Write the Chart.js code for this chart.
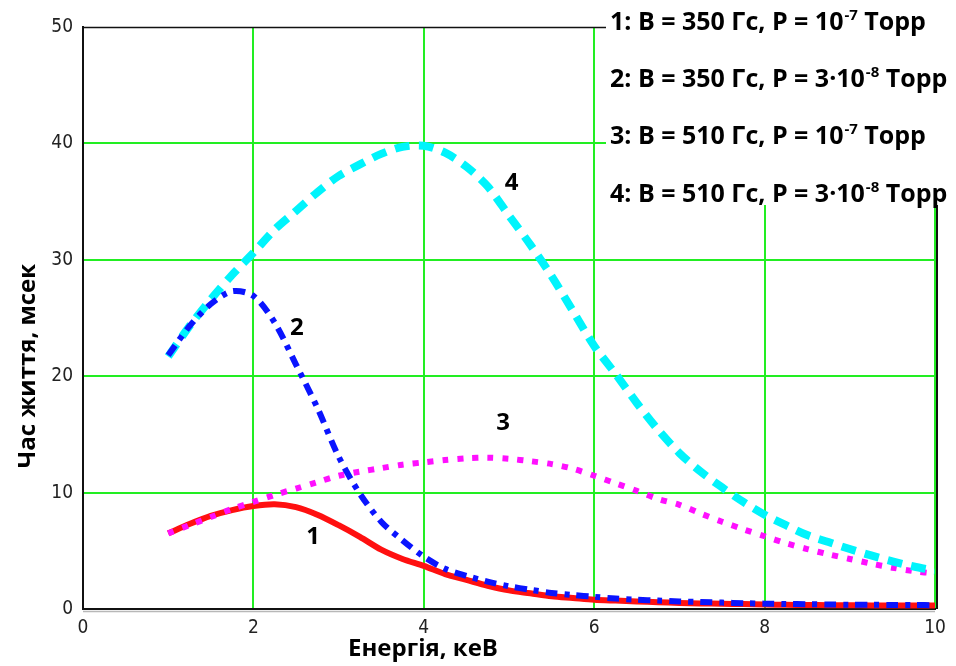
<!DOCTYPE html>
<html>
<head>
<meta charset="utf-8">
<script src="https://cdn.jsdelivr.net/npm/chart.js@4.4.0/dist/chart.umd.min.js"></script>
<style>
  html, body { margin: 0; padding: 0; background: #fff; }
  #wrap { width: 956px; height: 666px; position: relative; }
</style>
</head>
<body>
<div id="wrap"><canvas id="lifeChart"></canvas></div>
<script>
// energy grid, keV
const energy = [1.00, 1.25, 1.50, 1.75, 2.00, 2.25, 2.50, 2.75, 3.00, 3.25, 3.50, 3.75,
  4.00, 4.25, 4.50, 4.75, 5.00, 5.25, 5.50, 5.75, 6.00, 6.25, 6.50, 6.75,
  7.00, 7.25, 7.50, 7.75, 8.00, 8.25, 8.50, 8.75, 9.00, 9.25, 9.50, 9.75, 10.00];

// lifetime, ms
const tau1 = [6.5, 7.3, 8.0, 8.5, 8.85, 9.0, 8.75, 8.1, 7.2, 6.2, 5.1, 4.3,
  3.7, 3.0, 2.5, 2.0, 1.6, 1.35, 1.1, 0.95, 0.8, 0.72, 0.65, 0.58,
  0.52, 0.48, 0.45, 0.42, 0.38, 0.36, 0.34, 0.33, 0.32, 0.31, 0.30, 0.30, 0.29];
const tau2 = [21.8, 24.3, 26.2, 27.3, 26.9, 24.6, 21.0, 17.3, 13.1, 9.9, 7.5, 5.9,
  4.5, 3.45, 2.85, 2.35, 1.95, 1.65, 1.38, 1.2, 1.05, 0.9, 0.8, 0.72,
  0.65, 0.6, 0.55, 0.5, 0.46, 0.43, 0.41, 0.39, 0.37, 0.36, 0.35, 0.34, 0.33];
const tau3 = [6.5, 7.2, 7.9, 8.6, 9.2, 9.8, 10.35, 10.9, 11.45, 11.8, 12.1, 12.4,
  12.6, 12.8, 12.95, 13.0, 12.9, 12.7, 12.45, 12.05, 11.45, 10.8, 10.15, 9.45,
  8.95, 8.2, 7.5, 6.85, 6.25, 5.65, 5.15, 4.7, 4.3, 3.9, 3.55, 3.25, 3.05];
const tau4 = [21.7, 24.3, 26.6, 28.7, 30.6, 32.6, 34.2, 35.8, 37.2, 38.2, 39.1, 39.7,
  39.8, 39.2, 38.0, 36.3, 33.8, 31.3, 28.6, 25.6, 22.6, 20.2, 17.7, 15.4,
  13.4, 11.8, 10.45, 9.2, 8.1, 7.2, 6.35, 5.75, 5.15, 4.6, 4.1, 3.65, 3.3];

const xTicks = [0, 2, 4, 6, 8, 10];
const yTicks = [0, 10, 20, 30, 40, 50];

// legend lines: text, exponent, unit
const legendLines = [
  ['1: B = 350 Гс, P = 10', '-7', ' Торр'],
  ['2: B = 350 Гс, P = 3·10', '-8', ' Торр'],
  ['3: B = 510 Гс, P = 10', '-7', ' Торр'],
  ['4: B = 510 Гс, P = 3·10', '-8', ' Торр']
];

// curve number tags, in data coordinates
const curveTags = [
  { text: '1', x: 2.70, y: 6.2 },
  { text: '2', x: 2.51, y: 24.1 },
  { text: '3', x: 4.93, y: 16.0 },
  { text: '4', x: 5.03, y: 36.6 }
];

const xTitle = 'Енергія, кеВ';
const yTitle = 'Час життя, мсек';

const pts = ys => energy.map((e, i) => ({ x: e, y: ys[i] }));

const boldFont = "'Open Sans', 'DejaVu Sans', sans-serif";
const tickFont = { family: "'Liberation Sans Narrow', 'DejaVu Sans Condensed', sans-serif", size: 19 };

const overlay = {
  id: 'overlay',
  afterDraw(chart) {
    const { ctx, chartArea: a, scales } = chart;
    ctx.save();

    // top and right frame
    ctx.strokeStyle = '#111';
    ctx.lineWidth = 1.5;
    ctx.beginPath();
    ctx.moveTo(a.left, a.top + 0.5);
    ctx.lineTo(a.right + 1, a.top + 0.5);
    ctx.stroke();
    ctx.lineWidth = 2;
    ctx.beginPath();
    ctx.moveTo(a.right + 2, a.top);
    ctx.lineTo(a.right + 2, a.bottom);
    ctx.stroke();
    // soft shadow under the bottom axis
    ctx.strokeStyle = '#b8b8b8';
    ctx.lineWidth = 1.5;
    ctx.beginPath();
    ctx.moveTo(a.left, a.bottom + 2.5);
    ctx.lineTo(a.right, a.bottom + 2.5);
    ctx.stroke();

    // legend block
    ctx.fillStyle = '#fff';
    ctx.fillRect(606, 0, 350, 205);
    ctx.fillStyle = '#000';
    ctx.textBaseline = 'alphabetic';
    ctx.textAlign = 'left';
    const base = [30, 87, 144, 202];
    legendLines.forEach((ln, i) => {
      let x = 610;
      ctx.font = 'bold 25px ' + boldFont;
      ctx.fillText(ln[0], x, base[i]);
      x += ctx.measureText(ln[0]).width + 1;
      ctx.font = 'bold 15px ' + boldFont;
      ctx.fillText(ln[1], x, base[i] - 10);
      x += ctx.measureText(ln[1]).width;
      ctx.font = 'bold 25px ' + boldFont;
      ctx.fillText(ln[2], x, base[i]);
    });

    // curve numbers
    ctx.font = 'bold 24px ' + boldFont;
    ctx.textAlign = 'center';
    ctx.textBaseline = 'middle';
    curveTags.forEach(t => {
      ctx.fillText(t.text, scales.x.getPixelForValue(t.x), scales.y.getPixelForValue(t.y));
    });

    // axis titles
    ctx.font = 'bold 24px ' + boldFont;
    ctx.fillText(xTitle, 423, 649);
    ctx.translate(28, 366);
    ctx.rotate(-Math.PI / 2);
    ctx.fillText(yTitle, 0, 0);
    ctx.restore();
  }
};

const gridColor = c => (c.tick && (c.tick.value === 0)) ? 'rgba(0,0,0,0)' : '#22ee22';

new Chart(document.getElementById('lifeChart').getContext('2d'), {
  type: 'line',
  data: {
    datasets: [
      { data: pts(tau1), borderColor: '#ff1010', borderWidth: 6, tension: 0.3, order: 4 },
      { data: pts(tau2), borderColor: '#0a14ff', borderWidth: 6, borderDash: [12, 7, 5, 7], tension: 0.3, order: 1 },
      { data: pts(tau3), borderColor: '#ff10ff', borderWidth: 6, borderDash: [6, 9], tension: 0.3, order: 3 },
      { data: pts(tau4), borderColor: '#00f4fc', borderWidth: 8, borderDash: [15, 9], tension: 0.3, order: 2 }
    ]
  },
  options: {
    responsive: true,
    maintainAspectRatio: false,
    animation: false,
    layout: { padding: { top: 27, right: 21, left: 0, bottom: 0 } },
    elements: { point: { radius: 0 } },
    plugins: { legend: { display: false }, tooltip: { enabled: false } },
    scales: {
      x: {
        type: 'linear', min: 0, max: 10,
        afterBuildTicks: s => { s.ticks = xTicks.map(v => ({ value: v })); },
        afterFit: s => { s.height = 57; },
        grid: { color: gridColor, lineWidth: 2, drawTicks: false },
        border: { display: true, color: '#111', width: 2 },
        ticks: { font: tickFont, color: '#222', padding: 8, maxRotation: 0, autoSkip: false }
      },
      y: {
        min: 0, max: 50,
        afterBuildTicks: s => { s.ticks = yTicks.map(v => ({ value: v })); },
        afterFit: s => { s.width = 83; },
        grid: { color: c => (c.tick && (c.tick.value === 0 || c.tick.value === 50)) ? 'rgba(0,0,0,0)' : '#22ee22', lineWidth: 2, drawTicks: false },
        border: { display: true, color: '#111', width: 2 },
        ticks: { font: tickFont, color: '#222', padding: 10 }
      }
    }
  },
  plugins: [overlay]
});
</script>
</body>
</html>
